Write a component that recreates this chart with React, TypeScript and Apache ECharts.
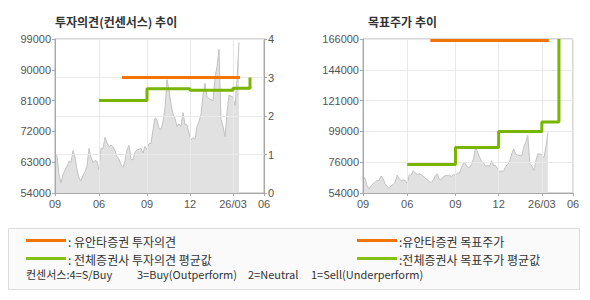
import React, { useEffect, useRef } from "react";
import * as echarts from "echarts";

// ---- axis / category data ----
const AXIS_LEN = 210; // number of daily slots on the time axis
const xTickIdx = [0, 44, 92, 135, 178, 209];
const xTickLabels = ["09", "06", "09", "12", "26/03", "06"];

// ---- stock price (one value every 2 slots, from slot 0) ----
const PRICE_STEP = 2;
const prices = [
  66000, 64700, 59500, 57000, 59300, 60700, 61800, 63300, 62900, 66400,
  64500, 60800, 58500, 57500, 59200, 60200, 61800, 67000, 64500, 62900,
  63500, 63200, 60800, 67000, 67000, 70200, 68600, 67500, 68000, 67500,
  66400, 64700, 63900, 62200, 61500, 63400, 66600, 67900, 63800, 63700,
  66000, 66600, 66800, 67000, 65700, 67600, 66800, 68400, 68500, 72500,
  75900, 75400, 72800, 72600, 74800, 78800, 87100, 84000, 80000, 77000,
  75800, 73450, 74200, 73400, 77500, 74000, 73950, 71500, 69500, 70200,
  69700, 73450, 74800, 77000, 82500, 86000, 82250, 81500, 81300, 81000,
  87500, 91000, 96000, 75500, 73500, 70500, 77400, 82600, 82300, 82000,
  79600, 87100, 98000,
];

// ---- investment opinion (left chart, right axis 0-4) ----
const yuantaOpinionX = [67, 185];
const yuantaOpinion = [3, 3];
const avgOpinionX = [44, 92, 135, 178, 195];
const avgOpinion = [2.4, 2.71, 2.67, 2.72, 3.0];

// ---- target price (right chart) ----
const yuantaTargetX = [67, 185];
const yuantaTarget = [165000, 165000];
const avgTargetX = [44, 92, 135, 178, 195];
const avgTarget = [74800, 87100, 98800, 105600, 166000];

// ---- axis ranges ----
const leftPriceMin = 54000;
const leftPriceMax = 99000;
const leftPriceInterval = 9000;
const opinionMin = 0;
const opinionMax = 4;
const targetMin = 54000;
const targetMax = 166000;
const targetSplits = 5;

// ---- legend texts ----
const legendLeft = [": 유안타증권 투자의견", ": 전체증권사 투자의견 평균값"];
const legendRight = [":유안타증권 목표주가", ":전체증권사 목표주가 평균값"];
const consensusNotes = ["컨센서스:4=S/Buy", "3=Buy(Outperform)", "2=Neutral", "1=Sell(Underperform)"];
const consensusNoteX = [26, 137, 248, 311];

const ORANGE = "#f27405";
const GREEN = "#78b400";
const LEGEND_GREEN = "#85c113";
const NUM_FONT = "Liberation Sans";
const KR_FONT = "Noto Sans CJK KR";

export default function App() {
  const ref = useRef<HTMLDivElement>(null);

  useEffect(() => {
    if (!ref.current) return;
    const chart = echarts.init(ref.current, undefined, { renderer: "svg" });

    const cats = Array.from({ length: AXIS_LEN }, (_, i) => String(i));
    const tickSet = new Set(xTickIdx);
    const labelMap: Record<number, string> = {};
    xTickIdx.forEach((t, i) => (labelMap[t] = xTickLabels[i]));

    const pricePairs = prices.map((p, i) => [i * PRICE_STEP, p]);
    const off = targetMin;
    const span = targetMax - targetMin;

    const mkX = (gridIndex: number) => ({
      type: "category",
      gridIndex,
      data: cats,
      boundaryGap: false,
      z: 2,
      axisLine: { show: true, lineStyle: { color: "#a8a8a8" } },
      axisTick: {
        show: true,
        length: 3,
        interval: (i: number) => tickSet.has(i),
        lineStyle: { color: "#a8a8a8" },
      },
      axisLabel: {
        interval: (i: number) => tickSet.has(i),
        formatter: (v: string) => labelMap[Number(v)] ?? "",
        margin: 5,
        color: "#555",
        fontSize: 11,
        fontFamily: NUM_FONT,
      },
      splitLine: {
        show: true,
        interval: (i: number) => tickSet.has(i),
        lineStyle: { color: "#e9e9e9" },
      },
    });

    const yLabel = { color: "#555", fontSize: 11, fontFamily: NUM_FONT, margin: 4 };
    const yLine = { show: true, lineStyle: { color: "#a8a8a8" } };
    const yTick = { show: true, length: 3, lineStyle: { color: "#a8a8a8" } };

    const opinionSteps = avgOpinionX.map((x, i) => [x, avgOpinion[i]]);
    const targetSteps = avgTargetX.map((x, i) => [x, avgTarget[i] - off]);

    const txt = (text: string, x: number, y: number, size = 12) => ({
      type: "text",
      x,
      y,
      style: { text, fontSize: size, fontFamily: KR_FONT, fill: "#333", verticalAlign: "middle" },
    });

    const option: any = {
      animation: false,
      grid: [
        { left: 55, top: 39, width: 209, height: 154, show: true, borderColor: "#b0b0b0", borderWidth: 1, backgroundColor: "#fff" },
        { left: 363, top: 39, width: 210, height: 154, show: true, borderColor: "#b0b0b0", borderWidth: 1, backgroundColor: "#fff" },
      ],
      xAxis: [mkX(0), mkX(1)],
      yAxis: [
        {
          type: "value",
          gridIndex: 0,
          position: "left",
          min: leftPriceMin,
          max: leftPriceMax,
          interval: leftPriceInterval,
          z: 2,
          axisLine: yLine,
          axisTick: yTick,
          axisLabel: { ...yLabel, formatter: (v: number) => String(v) },
          splitLine: { show: false },
        },
        {
          type: "value",
          gridIndex: 0,
          position: "right",
          min: opinionMin,
          max: opinionMax,
          interval: 1,
          z: 2,
          axisLine: yLine,
          axisTick: yTick,
          axisLabel: { ...yLabel, formatter: (v: number) => String(v) },
          splitLine: { show: true, lineStyle: { color: "#e9e9e9" } },
        },
        {
          type: "value",
          gridIndex: 1,
          position: "left",
          min: 0,
          max: span,
          interval: span / targetSplits,
          z: 2,
          axisLine: yLine,
          axisTick: yTick,
          axisLabel: {
            ...yLabel,
            formatter: (v: number) => String(Math.round((v + off) / 1000) * 1000),
          },
          splitLine: { show: true, lineStyle: { color: "#e9e9e9" } },
        },
      ],
      series: [
        {
          type: "line",
          xAxisIndex: 0,
          yAxisIndex: 0,
          data: pricePairs,
          symbol: "none",
          silent: true,
          z: 1,
          lineStyle: { color: "#c2c2c2", width: 1 },
          areaStyle: { color: "#e1e1e1", opacity: 1, origin: "start" },
        },
        {
          type: "line",
          xAxisIndex: 1,
          yAxisIndex: 2,
          data: pricePairs.map(([x, p]) => [x, p - off]),
          symbol: "none",
          silent: true,
          z: 1,
          lineStyle: { color: "#c2c2c2", width: 1 },
          areaStyle: { color: "#e1e1e1", opacity: 1, origin: "start" },
        },
        {
          type: "line",
          xAxisIndex: 0,
          yAxisIndex: 1,
          data: yuantaOpinionX.map((x, i) => [x, yuantaOpinion[i]]),
          symbol: "none",
          z: 4,
          lineStyle: { color: ORANGE, width: 3 },
        },
        {
          type: "line",
          xAxisIndex: 0,
          yAxisIndex: 1,
          step: "end",
          data: opinionSteps,
          symbol: "none",
          z: 4,
          lineStyle: { color: GREEN, width: 3 },
        },
        {
          type: "line",
          xAxisIndex: 1,
          yAxisIndex: 2,
          data: yuantaTargetX.map((x, i) => [x, yuantaTarget[i] - off]),
          symbol: "none",
          z: 4,
          lineStyle: { color: ORANGE, width: 3 },
        },
        {
          type: "line",
          xAxisIndex: 1,
          yAxisIndex: 2,
          step: "end",
          data: targetSteps,
          symbol: "none",
          z: 4,
          lineStyle: { color: GREEN, width: 3 },
        },
      ],
      graphic: [
        {
          type: "text",
          x: 55,
          y: 21.5,
          style: { text: "투자의견(컨센서스) 추이", fontSize: 12, fontWeight: "bold", fontFamily: KR_FONT, fill: "#333", verticalAlign: "middle" },
        },
        {
          type: "text",
          x: 368,
          y: 21.5,
          style: { text: "목표주가 추이", fontSize: 12, fontWeight: "bold", fontFamily: KR_FONT, fill: "#333", verticalAlign: "middle" },
        },
        {
          type: "rect",
          shape: { x: 8.5, y: 228.5, width: 571, height: 61 },
          style: { fill: "#fafafa", stroke: "#dcdcdc", lineWidth: 1 },
          z: 0,
        },
        { type: "line", shape: { x1: 26, y1: 240.5, x2: 66, y2: 240.5 }, style: { stroke: ORANGE, lineWidth: 3 } },
        { type: "line", shape: { x1: 26, y1: 258.5, x2: 66, y2: 258.5 }, style: { stroke: LEGEND_GREEN, lineWidth: 3 } },
        { type: "line", shape: { x1: 357, y1: 240.5, x2: 397, y2: 240.5 }, style: { stroke: ORANGE, lineWidth: 3 } },
        { type: "line", shape: { x1: 357, y1: 258.5, x2: 397, y2: 258.5 }, style: { stroke: LEGEND_GREEN, lineWidth: 3 } },
        txt(legendLeft[0], 68, 241),
        txt(legendLeft[1], 68, 259),
        txt(legendRight[0], 399, 241),
        txt(legendRight[1], 399, 259),
        ...consensusNotes.map((t, i) => txt(t, consensusNoteX[i], 274, 11)),
      ],
    };

    chart.setOption(option);
    return () => chart.dispose();
  }, []);

  return (
    <div
      ref={ref}
      style={{ position: "fixed", left: 0, top: 0, width: 590, height: 300, background: "#fff" }}
    />
  );
}
